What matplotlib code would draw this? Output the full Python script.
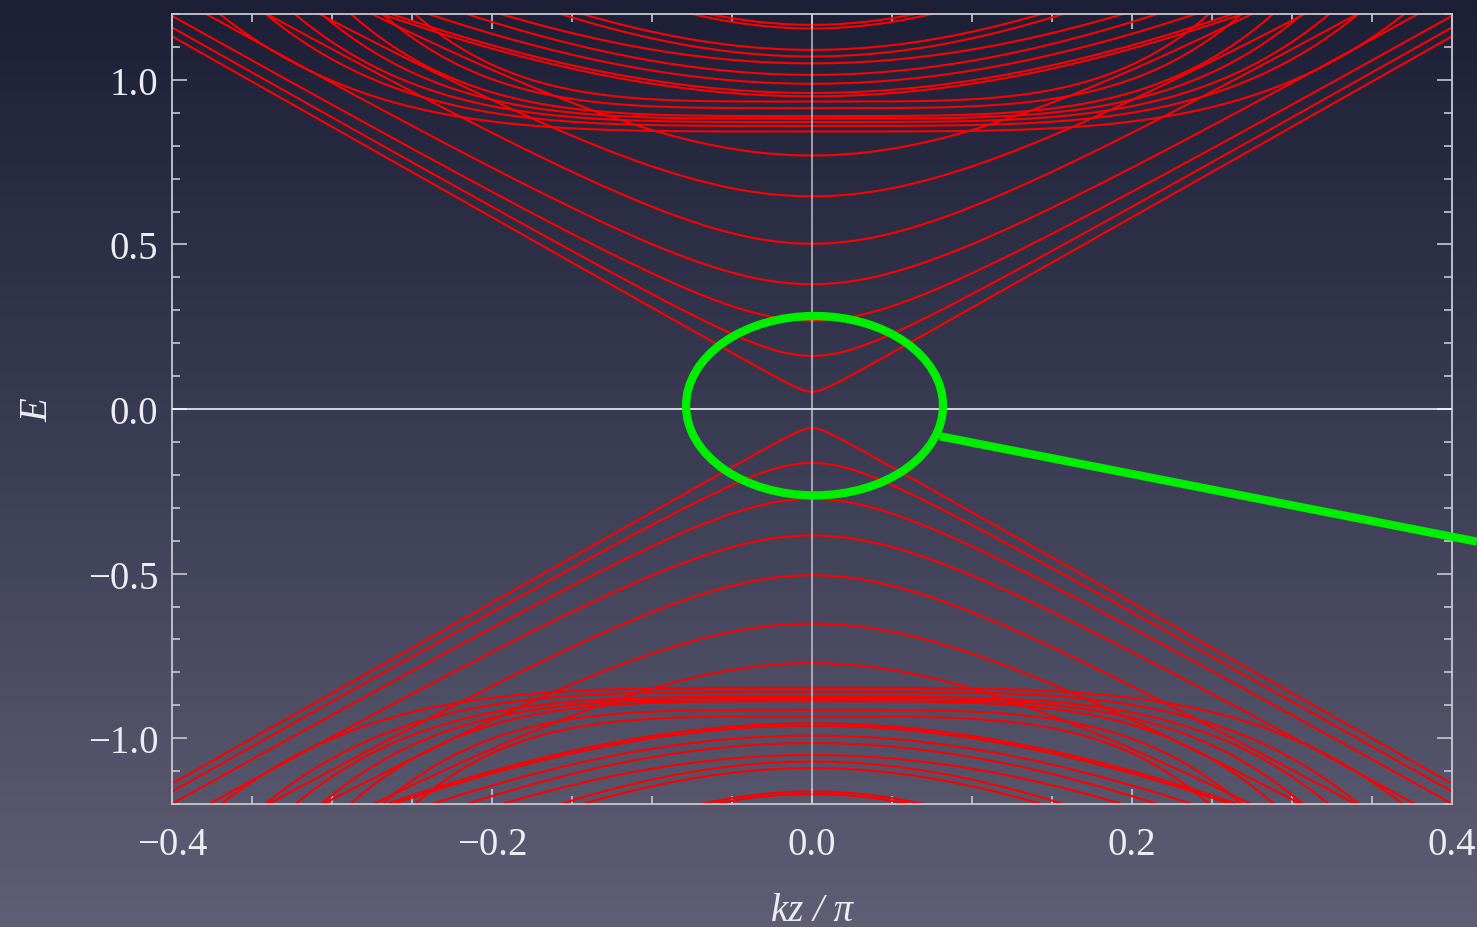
import numpy as np
import matplotlib.pyplot as plt
from matplotlib.patches import Ellipse
from matplotlib.colors import LinearSegmentedColormap
from matplotlib.ticker import MultipleLocator

# band energies at kz = 0
cond_dirac = [0.052, 0.161, 0.268, 0.379, 0.502, 0.646, 0.770]
cond_flat = [0.843, 0.860, 0.872, 0.882, 0.890, 0.914, 0.934]
cond_upper = [0.950, 0.960, 0.988, 1.015, 1.050, 1.071, 1.091, 1.156, 1.167]
val_dirac = [-0.058, -0.164, -0.273, -0.384, -0.505, -0.652, -0.772]
val_flat = [-0.847, -0.859, -0.874, -0.881, -0.888, -0.914, -0.934]
val_upper = [-0.955, -0.962, -0.992, -1.015, -1.051, -1.071, -1.091, -1.162, -1.170]

# how each band bends away from kz = 0 (read from where it leaves the frame)
dirac_bend = [0.02, 0.107, 0.19, 0.25, 0.28, 0.37, 0.45]
flat_rise = [19, 25, 30, 36, 45, 55, 70]
upper_bend = [0.97, 0.97, 0.92, 0.86, 0.88, 0.66, 0.66, 0.46, 0.46]
velocity = 2.75

x_ticks = [-0.4, -0.2, 0.0, 0.2, 0.4]
x_tick_labels = ['\u22120.4', '\u22120.2', '0.0', '0.2', '0.4']
y_ticks = [-1.0, -0.5, 0.0, 0.5, 1.0]
y_tick_labels = ['\u22121.0', '\u22120.5', '0.0', '0.5', '1.0']

kz = np.linspace(-0.4, 0.4, 1601)


def hyper_band(e0, bend):
    s = np.sign(e0)
    return e0 + s * (np.sqrt(bend ** 2 + (velocity * kz) ** 2) - bend)


def flat_band(e0, rise):
    return e0 + np.sign(e0) * rise * kz ** 4


fig = plt.figure(figsize=(14.77, 9.28), dpi=100)

# slide-style gradient background
bg = fig.add_axes([0, 0, 1, 1], zorder=-10)
cmap = LinearSegmentedColormap.from_list('slide', ['#5f5e74', '#3c3e55', '#1d1f37'])
bg.imshow(np.linspace(0, 1, 256).reshape(-1, 1)[::-1], aspect='auto', cmap=cmap,
          extent=[0, 1, 0, 1])
bg.axis('off')

ax = fig.add_axes([172 / 1477, 123 / 928, 1280 / 1477, 790 / 928])
ax.set_facecolor('none')

red = '#ff0000'
for e0s, bends in [(cond_dirac, dirac_bend), (val_dirac, dirac_bend),
                   (cond_upper, upper_bend), (val_upper, upper_bend)]:
    for e0, b in zip(e0s, bends):
        ax.plot(kz, hyper_band(e0, b), color=red, lw=1.5)
for e0s in [cond_flat, val_flat]:
    for e0, a in zip(e0s, flat_rise):
        ax.plot(kz, flat_band(e0, a), color=red, lw=1.5)

ax.axhline(0, color='white', lw=1.1, zorder=3)
ax.axvline(0, color='#d8d8e0', lw=1.1, alpha=0.85, zorder=3)

ax.set_xlim(-0.4, 0.4)
ax.set_ylim(-1.2, 1.2)

ax.set_xticks(x_ticks)
ax.set_xticklabels(x_tick_labels)
ax.set_yticks(y_ticks)
ax.set_yticklabels(y_tick_labels)
ax.xaxis.set_minor_locator(MultipleLocator(0.05))
ax.yaxis.set_minor_locator(MultipleLocator(0.1))

frame = '#c8c8d2'
for sp in ax.spines.values():
    sp.set_color(frame)
    sp.set_linewidth(1.3)
ax.tick_params(which='both', direction='in', top=True, right=True, color=frame,
               width=1.2, labelcolor='#ececf2')
ax.tick_params(which='major', length=11)
ax.tick_params(which='minor', length=6)
ax.tick_params(axis='x', which='major', pad=16)
ax.tick_params(axis='y', which='major', pad=10)
for lab in ax.get_xticklabels() + ax.get_yticklabels():
    lab.set_fontfamily('Liberation Serif')
    lab.set_fontsize(28)

ax.set_xlabel('kz / \u03c0', fontsize=28, family='Liberation Serif', style='italic',
              color='#ececf2')
ax.xaxis.label.set_va('center')
ax.xaxis.set_label_coords(0.5, -0.135)
ax.set_ylabel('E', fontsize=28, family='Liberation Serif', style='italic',
              color='#ececf2')
ax.yaxis.label.set_va('center')
ax.yaxis.set_label_coords(-0.105, 0.5)

# green highlight around the gap
green = '#00ee00'
ax.add_patch(Ellipse((0.0016, 0.010), 0.1606, 0.545, fill=False, ec=green, lw=6, zorder=5))
ax.plot([0.080, 0.4156], [-0.083, -0.403], color=green, lw=6, clip_on=False,
        solid_capstyle='butt', zorder=5)

fig.savefig('out.png', dpi=100)
